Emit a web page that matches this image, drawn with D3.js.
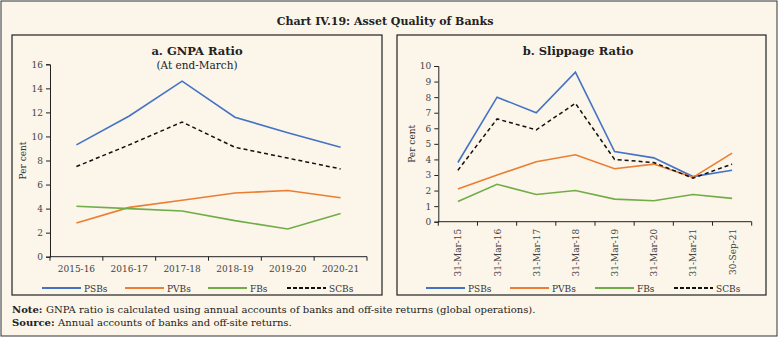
<!DOCTYPE html>
<html>
<head>
<meta charset="utf-8">
<script src="https://cdn.jsdelivr.net/npm/d3@7"></script>
<style>
  body { margin: 0; background: #fff; }
  svg text { font-family: "DejaVu Serif", serif; }
</style>
</head>
<body>
<div id="chart"></div>
<script>
// Panel a: GNPA ratio (at end-March)
var gnpaYears = ['2015-16', '2016-17', '2017-18', '2018-19', '2019-20', '2020-21'];
var gnpaPSBs = [9.3, 11.7, 14.6, 11.6, 10.3, 9.1];
var gnpaPVBs = [2.8, 4.1, 4.7, 5.3, 5.5, 4.9];
var gnpaFBs  = [4.2, 4.0, 3.8, 3.0, 2.3, 3.6];
var gnpaSCBs = [7.5, 9.3, 11.2, 9.1, 8.2, 7.3];
var gnpaTicks = [0, 2, 4, 6, 8, 10, 12, 14, 16];

// Panel b: slippage ratio
var slipDates = ['31-Mar-15', '31-Mar-16', '31-Mar-17', '31-Mar-18', '31-Mar-19', '31-Mar-20', '31-Mar-21', '30-Sep-21'];
var slipPSBs = [3.8, 8.0, 7.0, 9.6, 4.5, 4.1, 2.9, 3.3];
var slipPVBs = [2.1, 3.0, 3.85, 4.3, 3.4, 3.7, 2.85, 4.4];
var slipFBs  = [1.3, 2.4, 1.75, 2.0, 1.45, 1.35, 1.75, 1.5];
var slipSCBs = [3.3, 6.6, 5.9, 7.6, 4.0, 3.8, 2.8, 3.7];
var slipTicks = [0, 1, 2, 3, 4, 5, 6, 7, 8, 9, 10];

var seriesNames = ['PSBs', 'PVBs', 'FBs', 'SCBs'];
var seriesColors = {PSBs: '#4472c4', PVBs: '#ed7d31', FBs: '#70ad47', SCBs: '#111'};

var W = 778, H = 337;
var svg = d3.select('#chart').append('svg').attr('width', W).attr('height', H);

// outer frame
svg.append('rect').attr('x', 1).attr('y', 1).attr('width', W - 2).attr('height', H - 2)
	.attr('fill', '#fbf5ea').attr('stroke', '#333').attr('stroke-width', 1);

svg.append('text').attr('x', 385).attr('y', 25).attr('text-anchor', 'middle')
	.attr('font-size', 11).attr('font-weight', 'bold').attr('fill', '#222')
	.text('Chart IV.19: Asset Quality of Banks');

function panel(opt) {
	var g = svg.append('g');
	g.append('rect').attr('x', opt.box[0]).attr('y', opt.box[1])
		.attr('width', opt.box[2]).attr('height', opt.box[3])
		.attr('fill', 'none').attr('stroke', '#222').attr('stroke-width', 1.2);

	g.append('text').attr('x', opt.titleX).attr('y', 55).attr('text-anchor', 'middle')
		.attr('font-size', 11.5).attr('font-weight', 'bold').attr('fill', '#222')
		.text(opt.title);
	if (opt.subtitle) {
		g.append('text').attr('x', opt.titleX).attr('y', 69).attr('text-anchor', 'middle')
			.attr('font-size', 10.5).attr('fill', '#222').text(opt.subtitle);
	}

	var x = d3.scaleBand().domain(opt.cats).range(opt.xr);
	var y = d3.scaleLinear().domain([0, d3.max(opt.ticks)]).range(opt.yr);

	// y axis
	var ya = g.append('g').attr('transform', 'translate(' + opt.xr[0] + ',0)')
		.call(d3.axisLeft(y).tickValues(opt.ticks).tickSize(4).tickPadding(3));
	ya.select('.domain').attr('stroke', '#222');
	ya.selectAll('.tick line').attr('stroke', '#222');
	ya.selectAll('.tick text').attr('font-family', '"DejaVu Serif", serif')
		.attr('font-size', 9).attr('fill', '#444');

	g.append('text')
		.attr('transform', 'translate(' + opt.ylabX + ',' + ((opt.yr[0] + opt.yr[1]) / 2) + ') rotate(-90)')
		.attr('text-anchor', 'middle').attr('font-size', 9).attr('fill', '#333').text('Per cent');

	// x axis with ticks at band edges
	var xa = g.append('g').attr('transform', 'translate(0,' + opt.yr[0] + ')');
	xa.append('line').attr('x1', opt.xr[0]).attr('x2', opt.xr[1])
		.attr('stroke', '#222');
	var edges = opt.cats.map(function(c) { return x(c); }).concat([opt.xr[1]]);
	xa.selectAll('.edge').data(edges).enter().append('line')
		.attr('x1', function(d) { return d; }).attr('x2', function(d) { return d; })
		.attr('y1', 0).attr('y2', 4).attr('stroke', '#222');
	if (opt.rotate) {
		xa.selectAll('.lab').data(opt.cats).enter().append('text')
			.attr('transform', function(d) {
				return 'translate(' + (x(d) + x.bandwidth() / 2 + 3.5) + ',7) rotate(-90)';
			})
			.attr('text-anchor', 'end').attr('font-size', 9).attr('fill', '#444')
			.text(function(d) { return d; });
	} else {
		xa.selectAll('.lab').data(opt.cats).enter().append('text')
			.attr('x', function(d) { return x(d) + x.bandwidth() / 2; }).attr('y', 15)
			.attr('text-anchor', 'middle').attr('font-size', 9).attr('fill', '#444')
			.text(function(d) { return d; });
	}

	var line = d3.line()
		.x(function(d, i) { return x(opt.cats[i]) + x.bandwidth() / 2; })
		.y(function(d) { return y(d); });

	seriesNames.forEach(function(s) {
		g.append('path').datum(opt.data[s]).attr('d', line)
			.attr('fill', 'none').attr('stroke', seriesColors[s])
			.attr('stroke-width', s === 'SCBs' ? 1.5 : 1.6)
			.attr('stroke-dasharray', s === 'SCBs' ? '4,3' : null);
	});

	// legend
	var lg = g.selectAll('.leg').data(seriesNames).enter().append('g')
		.attr('transform', function(d, i) { return 'translate(' + opt.legX[i] + ',288)'; });
	lg.append('line').attr('x1', 0).attr('x2', 39).attr('y1', 0).attr('y2', 0)
		.attr('stroke', function(d) { return seriesColors[d]; })
		.attr('stroke-width', 2)
		.attr('stroke-dasharray', function(d) { return d === 'SCBs' ? '4,2' : null; });
	lg.append('text').attr('x', 42).attr('y', 3.5).attr('font-size', 9).attr('fill', '#333')
		.text(function(d) { return d; });
}

panel({
	box: [12, 35, 370, 260], title: 'a. GNPA Ratio', subtitle: '(At end-March)', titleX: 197,
	cats: gnpaYears, ticks: gnpaTicks, xr: [50, 367], yr: [256.7, 64.3], ylabX: 26,
	data: {PSBs: gnpaPSBs, PVBs: gnpaPVBs, FBs: gnpaFBs, SCBs: gnpaSCBs},
	legX: [42, 125, 208, 287], rotate: false
});

panel({
	box: [397, 35, 369, 260], title: 'b. Slippage Ratio', titleX: 578,
	cats: slipDates, ticks: slipTicks, xr: [438.3, 751.7], yr: [221.7, 66], ylabX: 415,
	data: {PSBs: slipPSBs, PVBs: slipPVBs, FBs: slipFBs, SCBs: slipSCBs},
	legX: [426, 510, 595, 674], rotate: true
});

var notes = svg.append('g').attr('font-size', 10).attr('fill', '#222');
var n1 = notes.append('text').attr('x', 12).attr('y', 313);
n1.append('tspan').attr('font-weight', 'bold').text('Note: ');
n1.append('tspan').text('GNPA ratio is calculated using annual accounts of banks and off-site returns (global operations).');
var n2 = notes.append('text').attr('x', 12).attr('y', 326);
n2.append('tspan').attr('font-weight', 'bold').text('Source: ');
n2.append('tspan').text('Annual accounts of banks and off-site returns.');
</script>
</body>
</html>
